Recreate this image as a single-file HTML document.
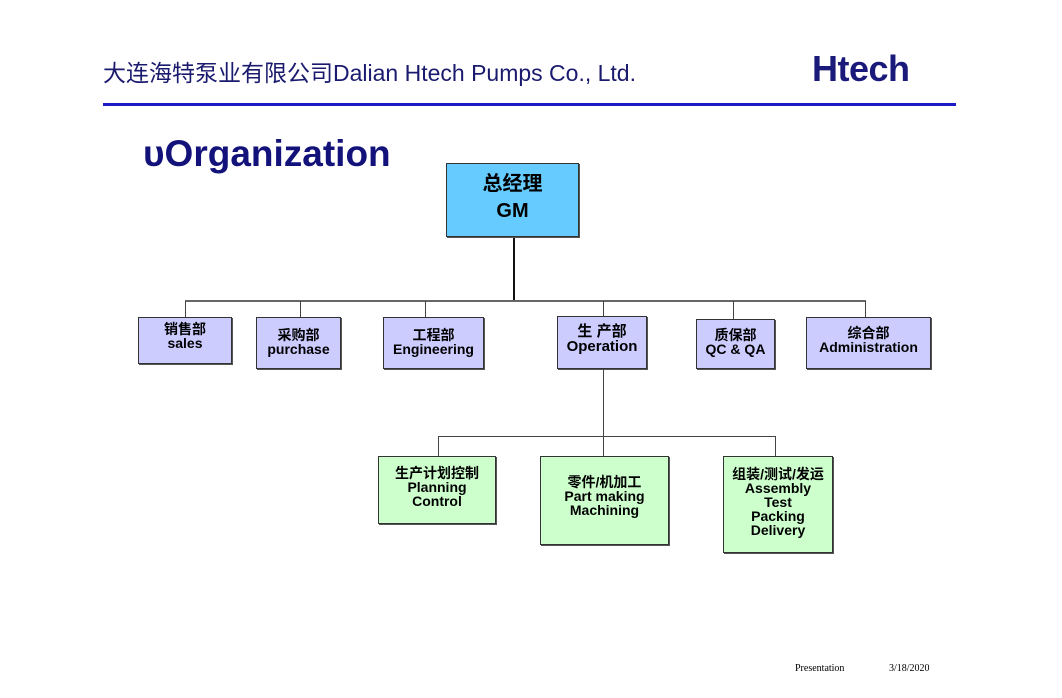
<!DOCTYPE html>
<html><head><meta charset="utf-8">
<style>
html,body{margin:0;padding:0;background:#fff;}
body{width:1062px;height:698px;position:relative;overflow:hidden;font-family:"Liberation Sans","Noto Sans CJK SC",sans-serif;}
.a{position:absolute;}
.box{position:absolute;box-sizing:border-box;border:1px solid #333;box-shadow:1px 1px 0 #555;text-align:center;font-weight:bold;color:#000;font-size:14px;line-height:14px;}
.d{background:#ccccff;}
.g{background:#ccffcc;}
.l{position:absolute;background:#444;}
</style></head><body>
<div class="a" style="left:103px;top:54px;font-size:23px;color:#1a1a6e;white-space:nowrap;">大连海特泵业有限公司<span style="font-family:'Liberation Sans',sans-serif;font-size:23px;">Dalian Htech Pumps Co., Ltd.</span></div>
<div class="a" style="left:812px;top:48px;font-size:36px;font-weight:900;color:#1a1a7a;letter-spacing:-0.5px;font-family:'Liberation Sans',sans-serif;">Htech</div>
<div class="a" style="left:103px;top:103px;width:853px;height:3px;background:#1c1cc4;"></div>
<div class="a" style="left:143px;top:133px;font-size:37px;font-weight:bold;color:#12127a;">ᴜOrganization</div>

<div class="box" style="left:446px;top:163px;width:133px;height:74px;background:#66ccff;font-size:20px;line-height:27px;padding-top:7px;">总经理<br>GM</div>

<div class="l" style="left:513px;top:238px;width:2px;height:63px;background:#111;"></div>
<div class="l" style="left:185px;top:300px;width:681px;height:2px;background:#666;"></div>
<div class="l" style="left:185px;top:301px;width:1px;height:17px;"></div>
<div class="l" style="left:300px;top:301px;width:1px;height:17px;"></div>
<div class="l" style="left:425px;top:301px;width:1px;height:17px;"></div>
<div class="l" style="left:603px;top:301px;width:1px;height:16px;"></div>
<div class="l" style="left:733px;top:301px;width:1px;height:18px;"></div>
<div class="l" style="left:865px;top:301px;width:1px;height:17px;"></div>

<div class="box d" style="left:138px;top:317px;width:94px;height:47px;padding-top:4px;">销售部<br>sales</div>
<div class="box d" style="left:256px;top:317px;width:85px;height:52px;padding-top:10px;">采购部<br>purchase</div>
<div class="box d" style="left:383px;top:317px;width:101px;height:52px;padding-top:10px;">工程部<br>Engineering</div>
<div class="box d" style="left:557px;top:316px;width:90px;height:53px;padding-top:7px;font-size:15px;line-height:15px;">生 产部<br>Operation</div>
<div class="box d" style="left:696px;top:319px;width:79px;height:50px;padding-top:8px;">质保部<br>QC &amp; QA</div>
<div class="box d" style="left:806px;top:317px;width:125px;height:52px;padding-top:8px;">综合部<br>Administration</div>

<div class="l" style="left:603px;top:369px;width:1px;height:87px;"></div>
<div class="l" style="left:438px;top:436px;width:338px;height:1px;"></div>
<div class="l" style="left:438px;top:436px;width:1px;height:20px;"></div>
<div class="l" style="left:775px;top:436px;width:1px;height:20px;"></div>

<div class="box g" style="left:378px;top:456px;width:118px;height:68px;padding-top:9px;">生产计划控制<br>Planning<br>Control</div>
<div class="box g" style="left:540px;top:456px;width:129px;height:89px;padding-top:18px;">零件/机加工<br>Part making<br>Machining</div>
<div class="box g" style="left:723px;top:456px;width:110px;height:97px;padding-top:10px;">组装/测试/发运<br>Assembly<br>Test<br>Packing<br>Delivery</div>

<div class="a" style="left:795px;top:663px;font-family:'Liberation Serif',serif;font-size:10px;color:#000;">Presentation</div>
<div class="a" style="left:889px;top:663px;font-family:'Liberation Serif',serif;font-size:10px;color:#000;">3/18/2020</div>
</body></html>
